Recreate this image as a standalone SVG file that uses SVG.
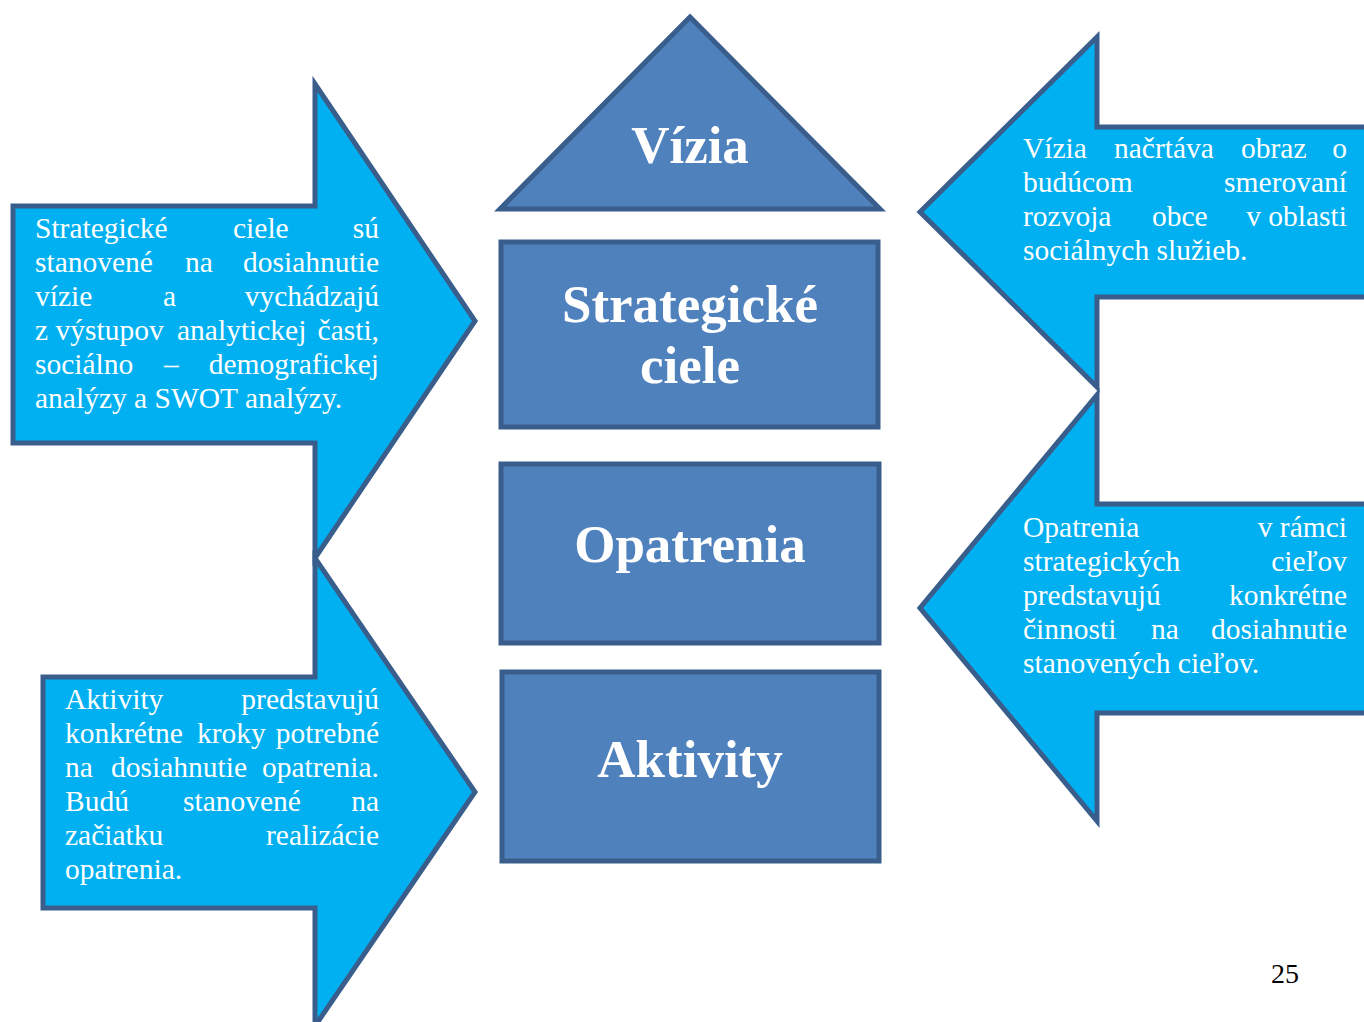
<svg xmlns="http://www.w3.org/2000/svg" width="1364" height="1022" viewBox="0 0 1364 1022">
<style>
.arrow{fill:#00b0f0;stroke:#3a5e8c;stroke-width:5;stroke-linejoin:miter}
.box{fill:#4f81bd;stroke:#3a5e8c;stroke-width:5}
.title{font-family:"Liberation Serif","Times New Roman",serif;font-weight:bold;font-size:53px;fill:#ffffff;text-anchor:middle}
.para{font-family:"Liberation Serif","Times New Roman",serif;font-size:29.5px;fill:#ffffff}
.e{text-anchor:end}
.num{font-family:"Liberation Serif","Times New Roman",serif;font-size:28px;fill:#000000}
</style>
<rect width="1364" height="1022" fill="#ffffff"/>
<g id="connectors"></g>
<g id="arrow-strategicke">
<polygon class="arrow" points="13,206 315,206 315,84 475,321 315,558 315,443 13,443"/>
<text class="para" y="238"><tspan x="35">Strategické</tspan><tspan x="233">ciele</tspan></text>
<text class="para e" x="379" y="238">sú</text>
<text class="para" y="272"><tspan x="35">stanovené</tspan><tspan x="185">na</tspan></text>
<text class="para e" x="379" y="272">dosiahnutie</text>
<text class="para" y="306"><tspan x="35">vízie</tspan><tspan x="163">a</tspan></text>
<text class="para e" x="379" y="306">vychádzajú</text>
<text class="para" y="340"><tspan x="35">z výstupov</tspan><tspan x="177">analytickej</tspan></text>
<text class="para e" x="379" y="340">časti,</text>
<text class="para" y="374"><tspan x="35">sociálno</tspan><tspan x="164">–</tspan></text>
<text class="para e" x="379" y="374">demografickej</text>
<text class="para" x="35" y="408">analýzy a SWOT analýzy.</text>
</g>
<g id="arrow-aktivity">
<polygon class="arrow" points="43,677 315,677 315,558 475,792 315,1026 315,908 43,908"/>
<text class="para" x="65" y="709">Aktivity</text>
<text class="para e" x="379" y="709">predstavujú</text>
<text class="para" y="743"><tspan x="65">konkrétne</tspan><tspan x="197">kroky</tspan></text>
<text class="para e" x="379" y="743">potrebné</text>
<text class="para" y="777"><tspan x="65">na</tspan><tspan x="111">dosiahnutie</tspan></text>
<text class="para e" x="379" y="777">opatrenia.</text>
<text class="para" y="811"><tspan x="65">Budú</tspan><tspan x="183">stanovené</tspan></text>
<text class="para e" x="379" y="811">na</text>
<text class="para" x="65" y="845">začiatku</text>
<text class="para e" x="379" y="845">realizácie</text>
<text class="para" x="65" y="879">opatrenia.</text>
</g>
<g id="arrow-vizia">
<polygon class="arrow" points="1368,127 1097,127 1097,37 920,212 1097,387 1097,297 1368,297"/>
<text class="para" y="158"><tspan x="1023">Vízia</tspan><tspan x="1114">načrtáva</tspan><tspan x="1241">obraz</tspan></text>
<text class="para e" x="1347" y="158">o</text>
<text class="para" x="1023" y="192">budúcom</text>
<text class="para e" x="1347" y="192">smerovaní</text>
<text class="para" y="226"><tspan x="1023">rozvoja</tspan><tspan x="1152">obce</tspan></text>
<text class="para e" x="1347" y="226">v oblasti</text>
<text class="para" x="1023" y="260">sociálnych služieb.</text>
</g>
<g id="arrow-opatrenia">
<polygon class="arrow" points="1368,504 1097,504 1097,395 920,608 1097,821 1097,713 1368,713"/>
<text class="para" x="1023" y="537">Opatrenia</text>
<text class="para e" x="1347" y="537">v rámci</text>
<text class="para" x="1023" y="571">strategických</text>
<text class="para e" x="1347" y="571">cieľov</text>
<text class="para" x="1023" y="605">predstavujú</text>
<text class="para e" x="1347" y="605">konkrétne</text>
<text class="para" y="639"><tspan x="1023">činnosti</tspan><tspan x="1151">na</tspan></text>
<text class="para e" x="1347" y="639">dosiahnutie</text>
<text class="para" x="1023" y="673">stanovených cieľov.</text>
</g>
<g id="node-vizia">
<polygon class="box" points="690,17 880,209 500,209"/>
<text class="title" x="690" y="163">Vízia</text>
</g>
<g id="node-strategicke-ciele">
<rect class="box" x="501" y="242" width="377" height="185"/>
<text class="title" x="690" y="322">Strategické</text>
<text class="title" x="690" y="383">ciele</text>
</g>
<g id="node-opatrenia">
<rect class="box" x="501" y="464" width="378" height="179"/>
<text class="title" x="690" y="562">Opatrenia</text>
</g>
<g id="node-aktivity">
<rect class="box" x="502" y="672" width="377" height="189"/>
<text class="title" x="690" y="777">Aktivity</text>
</g>
<text class="num" x="1271" y="983">25</text>
</svg>
